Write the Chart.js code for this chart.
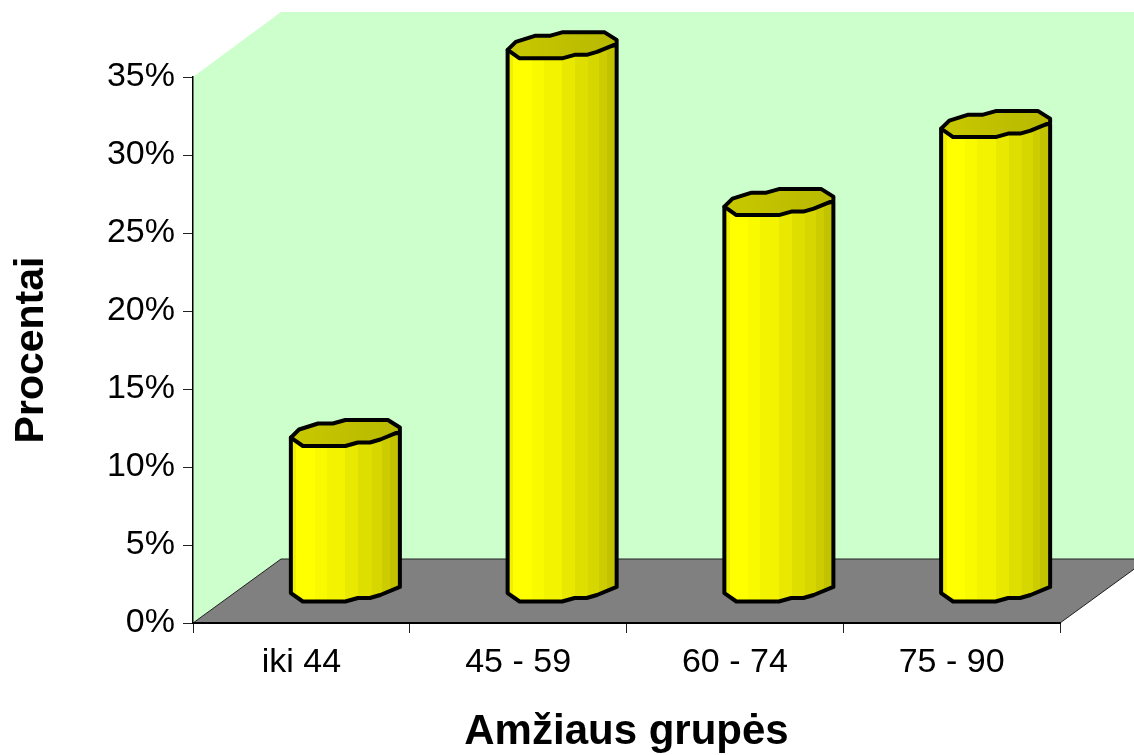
<!DOCTYPE html>
<html>
<head>
<meta charset="utf-8">
<title>Amžiaus grupės</title>
<script src="https://cdn.jsdelivr.net/npm/chart.js@4"></script>
<style>
  html, body { margin: 0; padding: 0; background: #fff; overflow: hidden; }
  canvas { display: block; }
</style>
</head>
<body>
<canvas id="bar-chart" width="1134" height="755"></canvas>
<script>
const categories = ['iki 44', '45 - 59', '60 - 74', '75 - 90'];
const percents = [10, 34.85, 24.8, 29.8];
const xTitle = 'Amžiaus grupės';
const yTitle = 'Procentai';

// depth of the fake 3d box, px
const depthX = 88;
const depthY = 64;

// outline of the squashed cylinder, relative to its centre, as fraction of half width / half height
const capShape = [
  [-1, 0.35], [-0.85, -0.27], [-0.5, -0.73], [-0.23, -0.73], [0, -1], [0.78, -1], [1, -0.42],
  [1, -0.12], [0.64, 0.5], [0.45, 0.73], [0.23, 0.73], [0, 1], [-0.78, 1],
];
const frontEdge = capShape.slice(7);

// shading strips, [right edge as fraction of bar width, colour]
const strips = [
  [0.05, '#f0f000'], [0.22, '#ffff00'], [0.33, '#f9f900'], [0.5, '#f3f300'], [0.62, '#e8e800'],
  [0.74, '#dede00'], [0.84, '#d6d600'], [0.91, '#cccc00'], [1, '#c2c200'],
];

const box3d = {
  id: 'box3d',
  beforeDraw(chart) {
    const { ctx, chartArea: a } = chart;
    ctx.save();
    ctx.fillStyle = '#ccffcc';
    ctx.beginPath();
    ctx.moveTo(a.left, a.bottom);
    ctx.lineTo(a.left, a.top);
    ctx.lineTo(a.left + depthX, a.top - depthY - 1);
    ctx.lineTo(a.right + depthX, a.top - depthY - 1);
    ctx.lineTo(a.right + depthX, a.bottom - depthY);
    ctx.lineTo(a.right, a.bottom);
    ctx.closePath();
    ctx.fill();

    ctx.fillStyle = '#808080';
    ctx.strokeStyle = '#222';
    ctx.lineWidth = 1;
    ctx.beginPath();
    ctx.moveTo(a.left, a.bottom);
    ctx.lineTo(a.left + depthX, a.bottom - depthY);
    ctx.lineTo(a.right + depthX, a.bottom - depthY);
    ctx.lineTo(a.right, a.bottom);
    ctx.closePath();
    ctx.fill();
    ctx.stroke();
    ctx.restore();
  },
  afterDatasetsDraw(chart) {
    const { ctx } = chart;
    chart.getDatasetMeta(0).data.forEach((bar) => {
      const cx = bar.x + depthX / 2;
      const hw = bar.width / 2;
      const hh = 13;
      const top = bar.y - 34;
      const base = bar.base - 34;
      const left = cx - hw;

      const bands = ctx.createLinearGradient(left, 0, left + bar.width, 0);
      let from = 0;
      strips.forEach(([to, color]) => {
        bands.addColorStop(from, color);
        bands.addColorStop(to, color);
        from = to;
      });

      ctx.save();
      ctx.lineJoin = 'round';
      ctx.lineWidth = 4;
      ctx.strokeStyle = '#000';

      // body
      ctx.beginPath();
      ctx.moveTo(cx + hw, top);
      frontEdge.forEach(([dx, dy]) => ctx.lineTo(cx + dx * hw, base + dy * hh));
      ctx.lineTo(cx - hw, base + capShape[0][1] * hh);
      ctx.lineTo(cx - hw, top + capShape[0][1] * hh);
      ctx.closePath();
      ctx.fillStyle = bands;
      ctx.fill();
      ctx.stroke();

      // lid
      const lid = ctx.createLinearGradient(left, 0, left + bar.width, 0);
      lid.addColorStop(0, '#c8c800');
      lid.addColorStop(1, '#b8b800');
      ctx.beginPath();
      capShape.forEach(([dx, dy], i) => {
        const px = cx + dx * hw;
        const py = top + dy * hh;
        if (i === 0) ctx.moveTo(px, py);
        else ctx.lineTo(px, py);
      });
      ctx.closePath();
      ctx.fillStyle = lid;
      ctx.fill();
      ctx.stroke();
      ctx.restore();
    });
  },
};

new Chart(document.getElementById('bar-chart'), {
  type: 'bar',
  data: {
    labels: categories,
    datasets: [
      {
        data: percents,
        backgroundColor: 'rgba(0,0,0,0)',
        borderWidth: 0,
        barPercentage: 1,
        categoryPercentage: 0.503,
      },
    ],
  },
  plugins: [box3d],
  options: {
    responsive: false,
    animation: false,
    layout: {
      padding: { top: 77, right: 74, left: 0, bottom: 0 },
    },
    scales: {
      x: {
        afterFit(scale) {
          scale.height = 132;
        },
        border: { color: '#000', width: 2 },
        grid: { drawOnChartArea: false, color: '#222', tickLength: 10, lineWidth: 1 },
        title: {
          display: true,
          text: xTitle,
          color: '#000',
          font: { family: '"Liberation Sans"', size: 42, weight: 'bold', lineHeight: 1 },
          padding: { top: 0, bottom: 2 },
        },
        ticks: {
          color: '#000',
          padding: 9,
          maxRotation: 0,
          font: { family: '"Liberation Sans"', size: 34 },
        },
      },
      y: {
        min: 0,
        max: 35,
        afterFit(scale) {
          scale.width = 193;
        },
        border: { color: '#000', width: 1.5 },
        grid: { drawOnChartArea: false, color: '#222', tickLength: 10, lineWidth: 1 },
        title: {
          display: true,
          text: yTitle,
          color: '#000',
          font: { family: '"Liberation Sans"', size: 41, weight: 'bold', lineHeight: 1 },
          padding: { top: 11, bottom: 0 },
        },
        ticks: {
          stepSize: 5,
          color: '#000',
          padding: 8,
          callback: (v) => v + '%',
          font: { family: '"Liberation Sans"', size: 34 },
        },
      },
    },
    plugins: {
      legend: { display: false },
      tooltip: { enabled: false },
    },
  },
});
</script>
</body>
</html>
